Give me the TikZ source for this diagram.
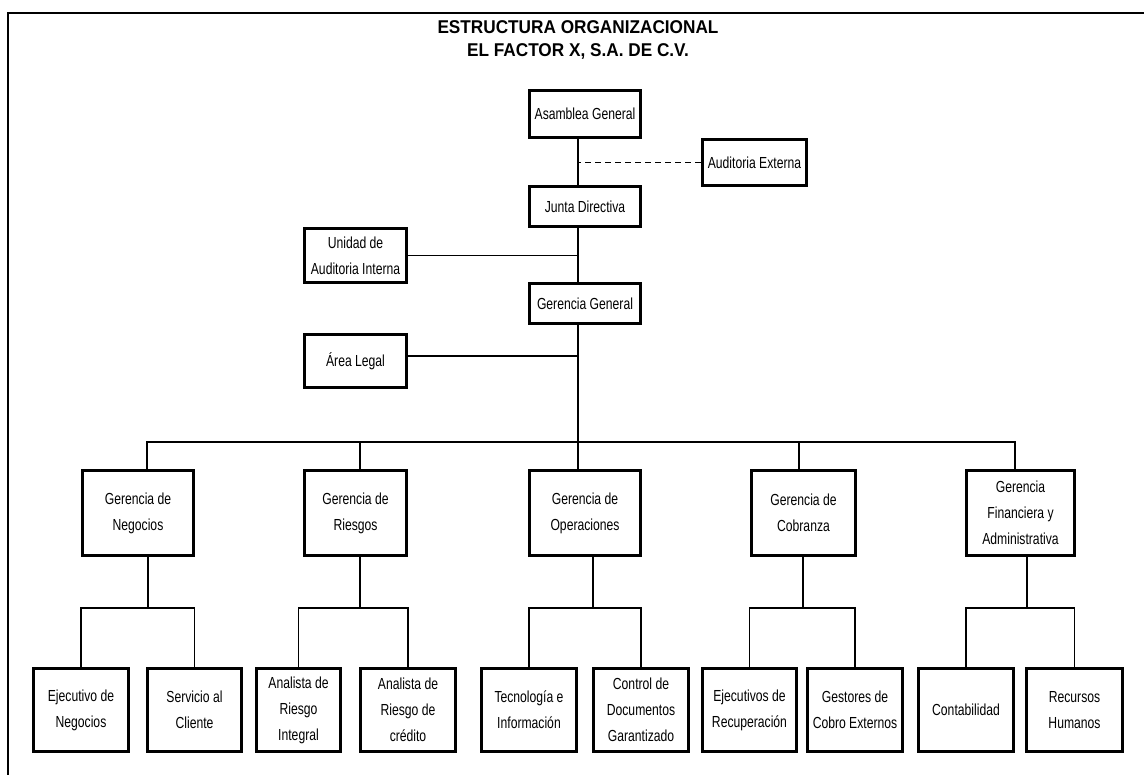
\documentclass[tikz,border=0pt]{standalone}
\usepackage{fontspec}
\setmainfont{Liberation Sans}[FakeStretch=0.76]
\newfontfamily\titlefont{Liberation Sans}[FakeStretch=0.93]
\begin{document}
\begin{tikzpicture}[x=1pt,y=-1pt,
  box/.style={draw, line width=3.6pt, fill=white, align=center, inner sep=0pt,
    font=\fontsize{16}{26}\selectfont},
  conn/.style={line width=1.9pt},
  dconn/.style={line width=1.4pt, dash pattern=on 6pt off 4pt},
  ttl/.style={anchor=base, inner sep=0pt, font=\titlefont\bfseries\fontsize{18.5}{20}\selectfont}]
\useasboundingbox (0,0) rectangle (1144,775);
% frame
\draw[line width=2.6pt] (8,775) -- (8,13) -- (1144,13);
% title
\node[ttl] (t1) at (578,34) {ESTRUCTURA ORGANIZACIONAL};
\node[ttl] (t2) at (578,57) {EL FACTOR X, S.A. DE C.V.};
% top boxes
\node[box, minimum width=111pt, minimum height=47pt] (ag) at (585,114) {Asamblea General};
\node[box, minimum width=104pt, minimum height=46pt] (ae) at (754.5,162.5) {Auditoria Externa};
\node[box, minimum width=111pt, minimum height=40pt] (jd) at (585,206.5) {Junta Directiva};
\node[box, minimum width=102pt, minimum height=54pt] (ui) at (355.5,255.5) {Unidad de\\Auditoria Interna};
\node[box, minimum width=111pt, minimum height=40pt] (gg) at (585,303.5) {Gerencia General};
\node[box, minimum width=102pt, minimum height=53pt] (al) at (355.5,361) {Área Legal};
% level 2
\node[box, minimum width=111pt, minimum height=85pt] (gn) at (138,513) {Gerencia de\\Negocios};
\node[box, minimum width=102pt, minimum height=85pt] (gr) at (355.5,513) {Gerencia de\\Riesgos};
\node[box, minimum width=111pt, minimum height=85pt] (go) at (585,513) {Gerencia de\\Operaciones};
\node[box, minimum width=104pt, minimum height=85pt] (gc) at (803.5,513) {Gerencia de\\Cobranza};
\node[box, minimum width=108pt, minimum height=85pt] (gf) at (1020.5,513) {Gerencia\\Financiera y\\Administrativa};
% level 3
\node[box, minimum width=95pt, minimum height=83pt] (s1) at (81,710) {Ejecutivo de\\Negocios};
\node[box, minimum width=94pt, minimum height=83pt] (s2) at (194.5,710) {Servicio al\\Cliente};
\node[box, minimum width=84pt, minimum height=83pt] (s3) at (298.5,710) {Analista de\\Riesgo\\Integral};
\node[box, minimum width=95pt, minimum height=83pt] (s4) at (408,710) {Analista de\\Riesgo de\\crédito};
\node[box, minimum width=95pt, minimum height=83pt] (s5) at (529,710) {Tecnología e\\Información};
\node[box, minimum width=95pt, minimum height=83pt] (s6) at (641,710) {Control de\\Documentos\\Garantizado};
\node[box, minimum width=94pt, minimum height=83pt] (s7) at (749.5,710) {Ejecutivos de\\Recuperación};
\node[box, minimum width=95pt, minimum height=83pt] (s8) at (855,710) {Gestores de\\Cobro Externos};
\node[box, minimum width=95pt, minimum height=83pt] (s9) at (966,710) {Contabilidad};
\node[box, minimum width=96pt, minimum height=83pt] (s10) at (1074.5,710) {Recursos\\Humanos};
% coordinates
\coordinate (m0) at (578,442);
\coordinate (dn) at (147,442);
\coordinate (dr) at (360,442);
\coordinate (dc) at (799,442);
\coordinate (df) at (1015,442);
\coordinate (b1) at (148,608);
\coordinate (b2) at (360,608);
\coordinate (b3) at (593,608);
\coordinate (b4) at (803,608);
\coordinate (b5) at (1027,608);
% main spine
\draw[conn] (ag.south -| m0) -- (jd.north -| m0);
\draw[conn] (jd.south -| m0) -- (gg.north -| m0);
\draw[conn] (gg.south -| m0) -- (go.north -| m0);
\draw[dconn] (ae.west) -- (ae.west -| m0);
\draw[conn] (ui.east) -- (ui.east -| m0);
\draw[conn] ([yshift=5pt]al.east) -- ([yshift=5pt]al.east -| m0);
% bus
\draw[conn] (gn.north -| dn) -- (dn) -- (df) -- (gf.north -| df);
\draw[conn] (dr) -- (gr.north -| dr);
\draw[conn] (dc) -- (gc.north -| dc);
% sub-buses
\draw[conn] (gn.south -| b1) -- (b1);
\draw[conn] (s1.north) |- (b1) -| (s2.north);
\draw[conn] (gr.south -| b2) -- (b2);
\draw[conn] (s3.north) |- (b2) -| (s4.north);
\draw[conn] (go.south -| b3) -- (b3);
\draw[conn] (s5.north) |- (b3) -| (s6.north);
\draw[conn] (gc.south -| b4) -- (b4);
\draw[conn] (s7.north) |- (b4) -| (s8.north);
\draw[conn] (gf.south -| b5) -- (b5);
\draw[conn] (s9.north) |- (b5) -| (s10.north);
\end{tikzpicture}
\end{document}
